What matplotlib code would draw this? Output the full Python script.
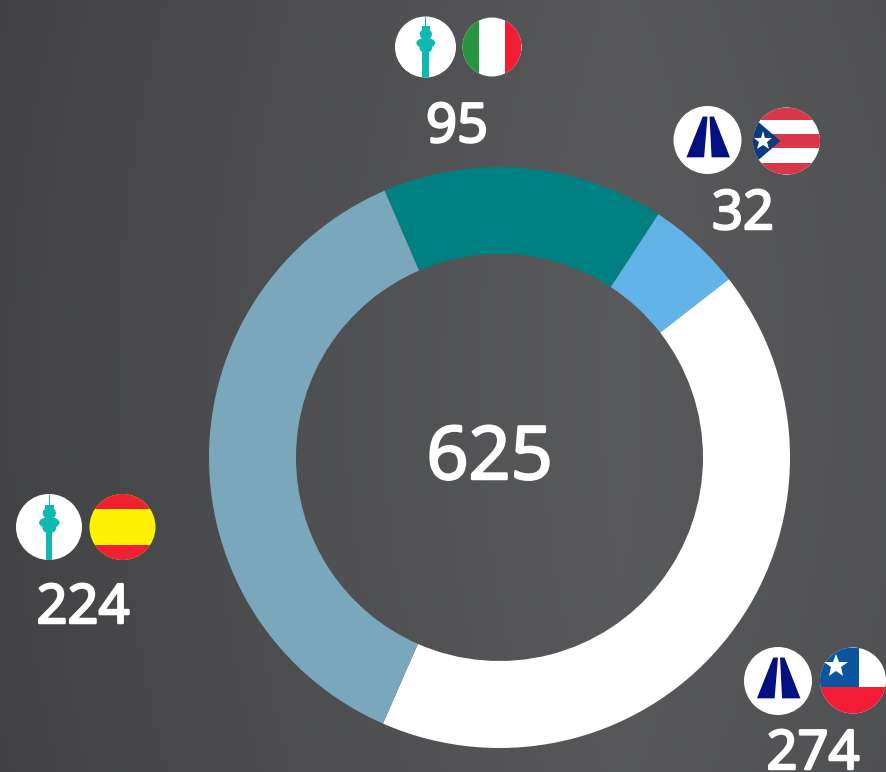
import numpy as np
import matplotlib
matplotlib.use("Agg")
import matplotlib.pyplot as plt
import matplotlib.patheffects as pe
from matplotlib.patches import Circle, Rectangle, Polygon, Ellipse

W, H = 886, 772

# numbers printed on the chart
etiquetas = [95, 32, 274, 224]
total = 625
# size of each arc as drawn (the arcs are not exactly proportional to the labels)
arcos = [98, 33, 263, 231]
colores = ["#008080", "#62b4e8", "#ffffff", "#7ba7bc"]

plt.rcParams["font.family"] = ["Open Sans", "DejaVu Sans"]
fig = plt.figure(figsize=(W / 100, H / 100), dpi=100)

# fondo con degradado, eje en pixeles
ax = fig.add_axes([0, 0, 1, 1])
ax.set_xlim(0, W)
ax.set_ylim(H, 0)
ax.axis("off")
xs = np.arange(W)
fondo = np.interp(xs, [0, 300, 620, 886], [0x42, 0x4e, 0x58, 0x51])
ys = np.linspace(-1, 1, H)
gris = fondo[None, :] + 2.0 * (1 - ys[:, None] ** 2) - 1
img = np.dstack([gris, gris + 0.5, gris + 2]) / 255
ax.imshow(img, extent=(0, W, H, 0), aspect="auto", zorder=0)

# donut
cx, cy, r = 499.5, 457.5, 290.5
ax2 = fig.add_axes([(cx - r) / W, 1 - (cy + r) / H, 2 * r / W, 2 * r / H])
ax2.pie(arcos, colors=colores, startangle=113.3, counterclock=False, radius=1,
        wedgeprops={"width": 87 / r, "linewidth": 0})
ax2.set_xlim(-1, 1)
ax2.set_ylim(-1, 1)
ax2.patch.set_alpha(0)


def base(x, y, rad, color="white"):
    c = Circle((x, y), rad, color=color, lw=0, zorder=2)
    ax.add_patch(c)
    return c


def rect(c, x, y, rad, x0, x1, y0, y1, color):
    p = Rectangle((x + x0 * rad, y + y0 * rad), (x1 - x0) * rad, (y1 - y0) * rad,
                  color=color, lw=0, zorder=3)
    ax.add_patch(p)
    p.set_clip_path(c)


def torre(x, y, rad):
    c = base(x, y, rad)
    verde = "#0db9b0"
    rect(c, x, y, rad, -0.10, 0.10, -0.05, 1.0, verde)
    rect(c, x, y, rad, -0.015, 0.03, -0.98, -0.5, verde)
    rect(c, x, y, rad, -0.13, 0.15, -0.68, -0.56, verde)
    for dy, a, b in [(-0.42, 0.4, 0.36), (-0.13, 0.62, 0.34), (0.03, 0.42, 0.32)]:
        e = Ellipse((x + 0.01 * rad, y + dy * rad), a * rad, b * rad, color=verde, lw=0, zorder=3)
        ax.add_patch(e)


def carretera(x, y, rad):
    c = base(x, y, rad)
    azul = "#021080"
    izq = [(-0.14, -0.69), (0.0, -0.69), (-0.10, 0.51), (-0.62, 0.51)]
    der = [(0.06, -0.69), (0.19, -0.69), (0.66, 0.51), (0.12, 0.51)]
    for q in (izq, der):
        ax.add_patch(Polygon([(x + a * rad, y + b * rad) for a, b in q], color=azul, lw=0, zorder=3))


def estrella(x, y, size):
    ax.plot([x], [y], marker="*", color="white", ms=size, mew=0, ls="none", zorder=4)


def italia(x, y, rad):
    c = base(x, y, rad)
    rect(c, x, y, rad, -1, -0.43, -1, 1, "#27953f")
    rect(c, x, y, rad, 0.44, 1, -1, 1, "#f21c35")


def espana(x, y, rad):
    c = base(x, y, rad, "#fff200")
    rect(c, x, y, rad, -1, 1, -1, -0.56, "#ef2030")
    rect(c, x, y, rad, -1, 1, 0.55, 1, "#ef2030")


def puerto_rico(x, y, rad):
    c = base(x, y, rad)
    for y0, y1 in [(-1, -0.63), (-0.2, 0.22), (0.65, 1)]:
        rect(c, x, y, rad, -1, 1, y0, y1, "#d9364a")
    t = Polygon([(x - 1.05 * rad, y - 0.75 * rad), (x - 0.18 * rad, y), (x - 1.05 * rad, y + 0.75 * rad)],
                color="#0a3a80", lw=0, zorder=3)
    ax.add_patch(t)
    t.set_clip_path(c)
    estrella(x - 0.69 * rad, y, 14)


def chile(x, y, rad):
    c = base(x, y, rad)
    rect(c, x, y, rad, -1, 0.18, -1, 0.21, "#0a559e")
    rect(c, x, y, rad, -1, 1, 0.21, 1, "#f21c35")
    estrella(x - 0.5 * rad, y - 0.44 * rad, 18)


torre(425.5, 47, 30.5)
italia(492, 47, 29.5)
carretera(707.5, 140, 34)
puerto_rico(786.5, 141, 33.5)
carretera(778, 681, 34)
chile(853, 680.5, 33)
torre(49, 527, 33)
espana(122.5, 527, 33)

# textos
grueso = [pe.withStroke(linewidth=1.8, foreground="white")]
pos_x = [457, 743, 813, 83]
pos_y = [121, 208, 748, 602]
for v, tx, ty in zip(etiquetas, pos_x, pos_y):
    ax.text(tx, ty, str(v), color="white", fontsize=39, ha="center", va="center_baseline",
            zorder=5, path_effects=grueso)
ax.text(489.5, 451, str(total), color="white", fontsize=53, ha="center", va="center_baseline",
        zorder=5, path_effects=grueso)

fig.savefig("out.png", dpi=100)
